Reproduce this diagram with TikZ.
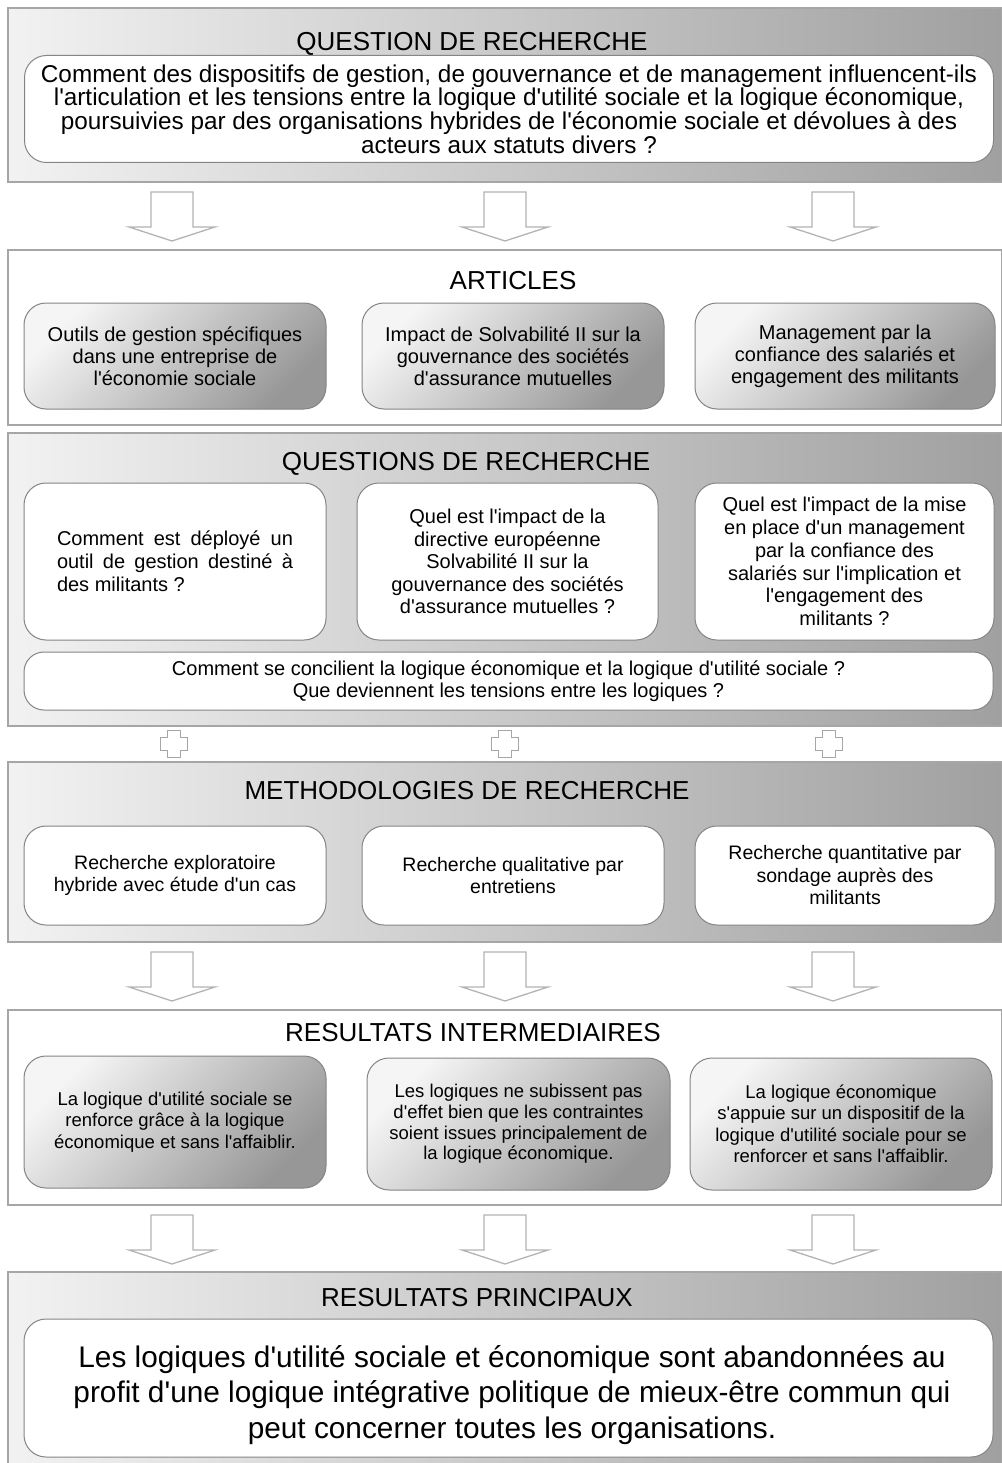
\documentclass[tikz,border=0pt]{standalone}
\usepackage{fontspec}
\setmainfont{Liberation Sans}[Ligatures=TeXOff]
\definecolor{paneledge}{HTML}{A6A6A6}
\definecolor{panellight}{HTML}{F2F2F2}
\definecolor{paneldark}{HTML}{A0A0A0}
\definecolor{boxlight}{HTML}{F5F5F5}
\definecolor{boxdark}{HTML}{979797}
\definecolor{boxedge}{HTML}{858585}
\tikzset{
	panel/.style={draw=paneledge, line width=2pt, inner sep=0pt, minimum width=994pt},
	greypanel/.style={panel, left color=panellight, right color=paneldark},
	whitepanel/.style={panel, fill=white},
	paneltitle/.style={font=\fontsize{26}{30}\selectfont, inner sep=0pt},
	whitebox/.style={draw=boxedge, line width=1pt, fill=white, rounded corners=22pt, align=center, inner sep=0pt},
	shadebox/.style={draw=boxedge, line width=1pt, rounded corners=22pt, align=center, inner sep=0pt,
		top color=boxlight, bottom color=boxdark, shading angle=45},
	bigarrow/.style={draw=paneledge!85, line width=1.3pt, fill=white},
	plussign/.style={draw=paneledge, line width=1pt, fill=white},
}
\begin{document}
\begin{tikzpicture}[x=1pt, y=-1pt]
	\useasboundingbox (0,0) rectangle (1001,1463);
	\path
		(172,192) coordinate (a11)
		(505,192) coordinate (a12)
		(833,192) coordinate (a13)
		(172,952) coordinate (a21)
		(505,952) coordinate (a22)
		(833,952) coordinate (a23)
		(172,1215) coordinate (a31)
		(505,1215) coordinate (a32)
		(833,1215) coordinate (a33)
		(174,744) coordinate (p1)
		(505,744) coordinate (p2)
		(829,744) coordinate (p3)
	;

	% question de recherche
	\node[greypanel, minimum height=174pt] (qpanel) at (505,95) {};
	\node[whitebox, minimum width=969pt, minimum height=107pt, font=\fontsize{24.3}{23.6}\selectfont] (qbox) at (509,109)
		{Comment des dispositifs de gestion, de gouvernance et de management influencent-ils\\
		l'articulation et les tensions entre la logique d'utilit\'e sociale et la logique \'economique,\\
		poursuivies par des organisations hybrides de l'\'economie sociale et d\'evolues \`a des\\
		acteurs aux statuts divers ?};
	\node[paneltitle] (qtitle) at (472,44) {QUESTION DE RECHERCHE};

	\draw[bigarrow, shift={(a11)}] (-21,0) -- (21,0) -- (21,35) -- (43,35) -- (0,49) -- (-43,35) -- (-21,35) -- cycle;
	\draw[bigarrow, shift={(a12)}] (-21,0) -- (21,0) -- (21,35) -- (43,35) -- (0,49) -- (-43,35) -- (-21,35) -- cycle;
	\draw[bigarrow, shift={(a13)}] (-21,0) -- (21,0) -- (21,35) -- (43,35) -- (0,49) -- (-43,35) -- (-21,35) -- cycle;

	% articles
	\node[whitepanel, minimum height=175pt] (artpanel) at (505,337.5) {};
	\node[paneltitle] (arttitle) at (513,281) {ARTICLES};
	\node[shadebox, minimum width=302pt, minimum height=106pt, font=\fontsize{20}{22}\selectfont] (art1) at (175,356)
		{Outils de gestion sp\'ecifiques\\ dans une entreprise de\\ l'\'economie sociale};
	\node[shadebox, minimum width=302pt, minimum height=106pt, font=\fontsize{20}{22}\selectfont] (art2) at (513,356)
		{Impact de Solvabilit\'e II sur la\\ gouvernance des soci\'et\'es\\ d'assurance mutuelles};
	\node[shadebox, minimum width=300pt, minimum height=106pt, font=\fontsize{20}{22}\selectfont] (art3) at (845,356)
		{Management par la\\ confiance des salari\'es et\\ engagement des militants};

	% questions de recherche
	\node[greypanel, minimum height=293pt] (qrpanel) at (505,579.5) {};
	\node[paneltitle] (qrtitle) at (466,464) {QUESTIONS DE RECHERCHE};
	\node[whitebox, minimum width=302pt, minimum height=157pt, align=left, font=\fontsize{20}{23}\selectfont] (qr1) at (175,561.5)
		{\makebox[236pt][s]{Comment est d\'eploy\'e un}\\ \makebox[236pt][s]{outil de gestion destin\'e \`a}\\ des militants ?};
	\node[whitebox, minimum width=301pt, minimum height=157pt, font=\fontsize{20}{22.6}\selectfont] (qr2) at (507.5,561.5)
		{Quel est l'impact de la\\ directive europ\'eenne\\ Solvabilit\'e II sur la\\ gouvernance des soci\'et\'es\\ d'assurance mutuelles ?};
	\node[whitebox, minimum width=299pt, minimum height=157pt, font=\fontsize{20}{22.8}\selectfont] (qr3) at (844.5,561.5)
		{Quel est l'impact de la mise\\ en place d'un management\\ par la confiance des\\ salari\'es sur l'implication et\\ l'engagement des\\ militants ?};
	\node[whitebox, minimum width=969pt, minimum height=58pt, rounded corners=20pt, font=\fontsize{20}{22}\selectfont] (qr4) at (508.5,681)
		{Comment se concilient la logique \'economique et la logique d'utilit\'e sociale ?\\
		Que deviennent les tensions entre les logiques ?};

	\draw[plussign, shift={(p1)}] (-6.5,-13.5) -- (6.5,-13.5) -- (6.5,-6.5) -- (13.5,-6.5) -- (13.5,6.5) -- (6.5,6.5) -- (6.5,13.5) -- (-6.5,13.5) -- (-6.5,6.5) -- (-13.5,6.5) -- (-13.5,-6.5) -- (-6.5,-6.5) -- cycle;
	\draw[plussign, shift={(p2)}] (-6.5,-13.5) -- (6.5,-13.5) -- (6.5,-6.5) -- (13.5,-6.5) -- (13.5,6.5) -- (6.5,6.5) -- (6.5,13.5) -- (-6.5,13.5) -- (-6.5,6.5) -- (-13.5,6.5) -- (-13.5,-6.5) -- (-6.5,-6.5) -- cycle;
	\draw[plussign, shift={(p3)}] (-6.5,-13.5) -- (6.5,-13.5) -- (6.5,-6.5) -- (13.5,-6.5) -- (13.5,6.5) -- (6.5,6.5) -- (6.5,13.5) -- (-6.5,13.5) -- (-6.5,6.5) -- (-13.5,6.5) -- (-13.5,-6.5) -- (-6.5,-6.5) -- cycle;

	% methodologies
	\node[greypanel, minimum height=180pt] (methpanel) at (505,852) {};
	\node[paneltitle] (methtitle) at (467,791) {METHODOLOGIES DE RECHERCHE};
	\node[whitebox, minimum width=302pt, minimum height=99pt, font=\fontsize{19.5}{22.5}\selectfont] (meth1) at (175,875.5)
		{Recherche exploratoire\\ hybride avec \'etude d'un cas};
	\node[whitebox, minimum width=302pt, minimum height=99pt, font=\fontsize{19.5}{22.5}\selectfont] (meth2) at (513,875.5)
		{Recherche qualitative par\\ entretiens};
	\node[whitebox, minimum width=300pt, minimum height=99pt, font=\fontsize{19.5}{22.5}\selectfont] (meth3) at (845,875.5)
		{Recherche quantitative par\\ sondage aupr\`es des\\ militants};

	\draw[bigarrow, shift={(a21)}] (-21,0) -- (21,0) -- (21,35) -- (43,35) -- (0,49) -- (-43,35) -- (-21,35) -- cycle;
	\draw[bigarrow, shift={(a22)}] (-21,0) -- (21,0) -- (21,35) -- (43,35) -- (0,49) -- (-43,35) -- (-21,35) -- cycle;
	\draw[bigarrow, shift={(a23)}] (-21,0) -- (21,0) -- (21,35) -- (43,35) -- (0,49) -- (-43,35) -- (-21,35) -- cycle;

	% resultats intermediaires
	\node[whitepanel, minimum height=195pt] (ripanel) at (505,1107.5) {};
	\node[paneltitle] (rititle) at (473,1033) {RESULTATS INTERMEDIAIRES};
	\node[shadebox, minimum width=302pt, minimum height=132pt, font=\fontsize{18.5}{21.3}\selectfont] (ri1) at (175,1122)
		{La logique d'utilit\'e sociale se\\ renforce gr\^ace \`a la logique\\ \'economique et sans l'affaiblir.};
	\node[shadebox, minimum width=303pt, minimum height=132pt, font=\fontsize{18.5}{20.7}\selectfont] (ri2) at (518.5,1124)
		{Les logiques ne subissent pas\\ d'effet bien que les contraintes\\ soient issues principalement de\\ la logique \'economique.};
	\node[shadebox, minimum width=302pt, minimum height=132pt, font=\fontsize{18.5}{21.5}\selectfont] (ri3) at (841,1124)
		{La logique \'economique\\ s'appuie sur un dispositif de la\\ logique d'utilit\'e sociale pour se\\ renforcer et sans l'affaiblir.};

	\draw[bigarrow, shift={(a31)}] (-21,0) -- (21,0) -- (21,35) -- (43,35) -- (0,49) -- (-43,35) -- (-21,35) -- cycle;
	\draw[bigarrow, shift={(a32)}] (-21,0) -- (21,0) -- (21,35) -- (43,35) -- (0,49) -- (-43,35) -- (-21,35) -- cycle;
	\draw[bigarrow, shift={(a33)}] (-21,0) -- (21,0) -- (21,35) -- (43,35) -- (0,49) -- (-43,35) -- (-21,35) -- cycle;

	% resultats principaux
	\node[greypanel, minimum height=203pt] (rppanel) at (505,1373.5) {};
	\node[paneltitle] (rptitle) at (477,1298) {RESULTATS PRINCIPAUX};
	\node[whitebox, minimum width=969pt, minimum height=138pt] (rpbox) at (508.5,1388) {};
	\node[align=center, inner sep=0pt, font=\fontsize{29.8}{35.5}\selectfont] (rptext) at (512,1395)
		{Les logiques d'utilit\'e sociale et \'economique sont abandonn\'ees au\\
		profit d'une logique int\'egrative politique de mieux-\^etre commun qui\\
		peut concerner toutes les organisations.};
\end{tikzpicture}
\end{document}
